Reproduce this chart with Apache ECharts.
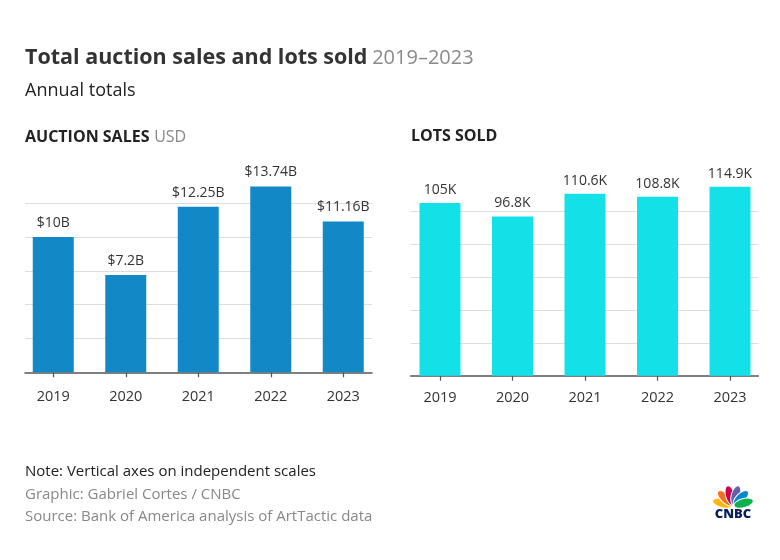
<!DOCTYPE html>
<html>
<head>
<meta charset="utf-8">
<script src="https://cdn.jsdelivr.net/npm/echarts@6/dist/echarts.min.js"></script>
<style>
html,body{margin:0;padding:0;background:#fff;}
#c{width:780px;height:560px;}
</style>
</head>
<body>
<div id="c"></div>
<script>
const years = ['2019', '2020', '2021', '2022', '2023'];
const sales = [10, 7.2, 12.25, 13.74, 11.16];   // USD billions
const lots = [105, 96.8, 110.6, 108.8, 114.9];  // thousands
const salesInterval = 2.5;
const lotsInterval = 20;

const FONT = 'Open Sans';
const chart = echarts.init(document.getElementById('c'), null, {renderer: 'canvas'});
const salesMax = Math.max(...sales);
const lotsMax = Math.max(...lots);

function barX(idx) {
  return {
    gridIndex: idx, type: 'category', data: years, boundaryGap: true,
    axisLine: {show: false},
    axisTick: {show: true, alignWithLabel: true, length: 5, lineStyle: {color: '#555', width: 1.2}},
    axisLabel: {fontSize: 14.5, color: '#333', margin: idx === 0 ? 17 : 15, fontFamily: FONT}
  };
}
function overlayX(idx) {
  return {
    gridIndex: idx, type: 'category', data: years,
    axisLine: {show: true, lineStyle: {color: '#555', width: 1.5}},
    axisTick: {show: false}, axisLabel: {show: false}
  };
}
function hiddenY(idx, max) {
  return {gridIndex: idx, type: 'value', min: 0, max: max, show: false, splitLine: {show: false}};
}
function gridY(idx, max, interval) {
  return {
    gridIndex: idx, type: 'value', min: 0, max: max, interval: interval,
    axisLine: {show: false}, axisTick: {show: false}, axisLabel: {show: false},
    splitLine: {show: true, showMinLine: false, showMaxLine: false, lineStyle: {color: '#dddddd', width: 1}}
  };
}

// CNBC peacock
const petalColors = ['#fcb711', '#f37021', '#cc004c', '#6460aa', '#0089d0', '#0db14b'];
const petals = petalColors.map((col, i) => ({
  type: 'ellipse',
  x: 733, y: 506,
  rotation: (75 - i * 30) * Math.PI / 180,
  shape: {cx: 0, cy: -11, rx: 4.6, ry: 10},
  style: {fill: col, stroke: '#fff', lineWidth: 1}
}));

const option = {
  backgroundColor: '#fff',
  animation: false,
  textStyle: {fontFamily: FONT},
  title: [
    {
      left: 25, top: 47, padding: 0,
      text: '{b|Total auction sales and lots sold} {g|2019–2023}',
      textStyle: {
        rich: {
          b: {fontSize: 21.5, fontWeight: 'bold', color: '#333', fontFamily: FONT},
          g: {fontSize: 20, fontWeight: 'normal', color: '#8a8a8a', fontFamily: FONT}
        }
      }
    },
    {
      left: 25, top: 82, padding: 0, text: 'Annual totals',
      textStyle: {fontSize: 18, fontWeight: 'normal', color: '#222', fontFamily: FONT}
    },
    {
      left: 25, top: 128, padding: 0,
      text: '{b|AUCTION SALES} {g|USD}',
      textStyle: {rich: {
        b: {fontSize: 16, fontWeight: 'bold', color: '#222', fontFamily: FONT},
        g: {fontSize: 16, fontWeight: 'normal', color: '#888', fontFamily: FONT}
      }}
    },
    {
      left: 411, top: 128, padding: 0,
      text: '{b|LOTS SOLD}',
      textStyle: {rich: {
        b: {fontSize: 16, fontWeight: 'bold', color: '#222', fontFamily: FONT}
      }}
    },
    {
      left: 25, top: 464, padding: 0, text: 'Note: Vertical axes on independent scales',
      textStyle: {fontSize: 15, fontWeight: 'normal', color: '#222', fontFamily: FONT}
    },
    {
      left: 25, top: 487, padding: 0, text: 'Graphic: Gabriel Cortes / CNBC',
      textStyle: {fontSize: 15, fontWeight: 'normal', color: '#888', fontFamily: FONT}
    },
    {
      left: 25, top: 509, padding: 0, text: 'Source: Bank of America analysis of ArtTactic data',
      textStyle: {fontSize: 15, fontWeight: 'normal', color: '#888', fontFamily: FONT}
    }
  ],
  grid: [
    {left: 17, top: 186.5, width: 362.5, height: 185.8},
    {left: 25, top: 186.5, width: 347, height: 185.8},
    {left: 403.75, top: 186.7, width: 362.5, height: 189},
    {left: 410.7, top: 186.7, width: 347.6, height: 189}
  ],
  xAxis: [barX(0), overlayX(1), barX(2), overlayX(3)],
  yAxis: [hiddenY(0, salesMax), gridY(1, salesMax, salesInterval), hiddenY(2, lotsMax), gridY(3, lotsMax, lotsInterval)],
  series: [
    {
      type: 'bar', xAxisIndex: 0, yAxisIndex: 0, data: sales, barWidth: 41,
      itemStyle: {color: '#1289c6'}, z: 3,
      label: {show: true, position: 'top', distance: 7, fontSize: 14, color: '#333', fontFamily: FONT,
        formatter: p => '$' + p.value + 'B'}
    },
    {
      type: 'bar', xAxisIndex: 2, yAxisIndex: 2, data: lots, barWidth: 41,
      itemStyle: {color: '#14e1e7'}, z: 3,
      label: {show: true, position: 'top', distance: 6, fontSize: 14, color: '#333', fontFamily: FONT,
        formatter: p => p.value + 'K'}
    }
  ],
  graphic: [
    {type: 'group', children: petals},
    {
      type: 'text', x: 733, y: 514,
      style: {text: 'CNBC', fill: '#0a1f5c', font: '800 13px ' + FONT, align: 'center', verticalAlign: 'middle'}
    }
  ]
};
chart.setOption(option);
</script>
</body>
</html>
